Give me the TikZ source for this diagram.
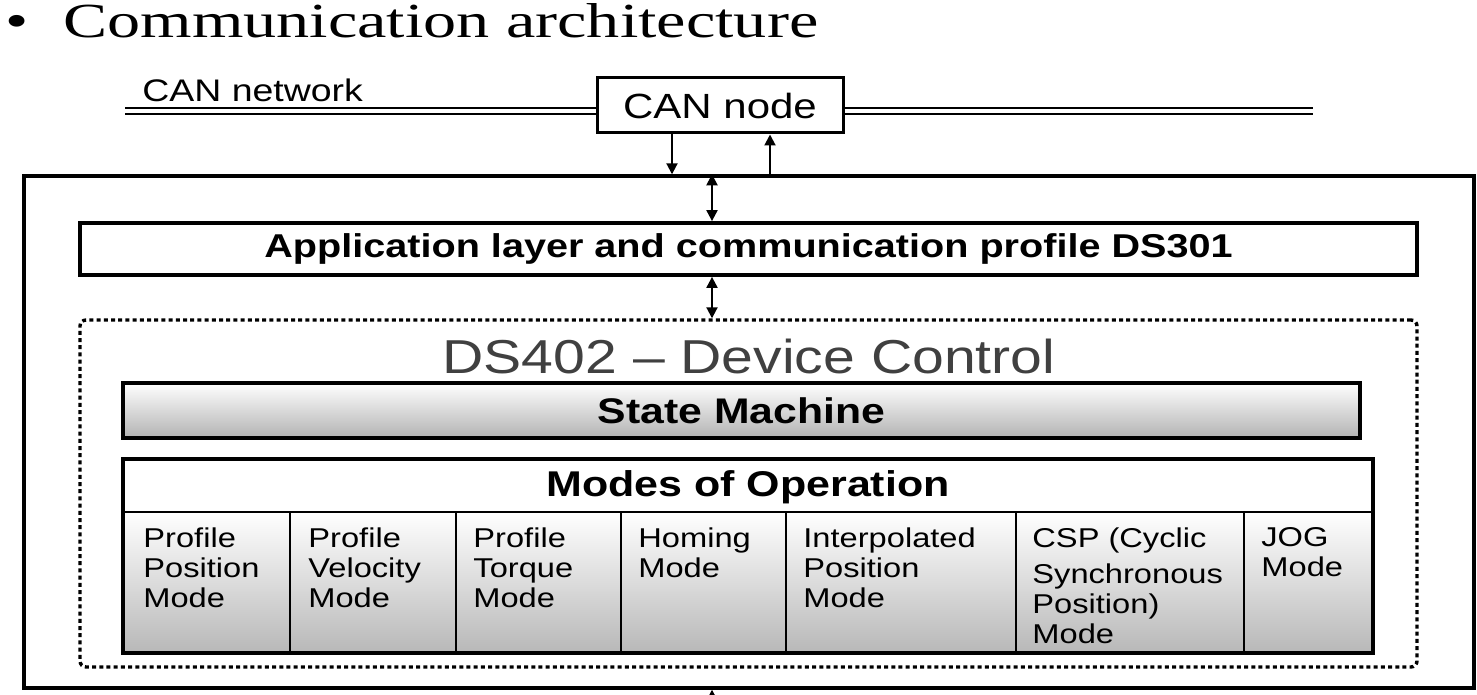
\documentclass[tikz,border=0pt]{standalone}
\usepackage{fontspec}
\setmainfont{Liberation Sans}[FakeStretch=1.2]
\newfontfamily\titlefont{Liberation Serif}[FakeStretch=1.35]
\usepackage{tikz}
\usetikzlibrary{arrows.meta, positioning, calc}

\begin{document}
\begin{tikzpicture}[
        x=0.5pt, y=-0.5pt,
        canbox/.style={
            rectangle,
            draw,
            line width=1.5pt,
            minimum width=123pt,
            minimum height=27.5pt,
            inner sep=0pt,
            font=\fontsize{17.5}{20}\selectfont
        },
        frame/.style={
            rectangle,
            draw,
            line width=1.7pt,
            minimum width=725pt,
            minimum height=256pt,
            inner sep=0pt
        },
        layer/.style={
            rectangle,
            draw,
            line width=1.9pt,
            minimum width=668.5pt,
            minimum height=26pt,
            inner sep=0pt,
            font=\fontsize{16.5}{18}\selectfont\bfseries
        },
        profile/.style={
            rectangle,
            draw,
            rounded corners=3pt,
            line width=1.7pt,
            dash pattern=on 2pt off 1.6pt,
            minimum width=668.5pt,
            minimum height=173.5pt,
            inner sep=0pt
        },
        bar/.style={
            rectangle,
            draw,
            line width=1.9pt,
            minimum width=618.5pt,
            minimum height=27.5pt,
            inner sep=0pt,
            top color=white,
            middle color=white,
            bottom color=black!30,
            font=\fontsize{17.8}{20}\selectfont\bfseries
        },
        modebox/.style={
            rectangle,
            draw,
            line width=1.9pt,
            minimum width=625pt,
            minimum height=97pt,
            inner sep=0pt
        },
        cellrow/.style={
            rectangle,
            draw,
            line width=0.8pt,
            minimum width=625pt,
            minimum height=70.5pt,
            inner sep=0pt,
            top color=white,
            middle color=white,
            bottom color=black!28
        },
        celltext/.style={
            anchor=north west,
            align=left,
            inner sep=0pt,
            font=\fontsize{13.6}{15}\selectfont
        },
        bus/.style={
            double,
            line width=1pt,
            double distance=2pt
        },
        arrow/.style={
            -{Triangle[length=5.5pt, width=5.5pt]},
            line width=1pt
        },
        darrow/.style={
            {Triangle[length=5.5pt, width=5.5pt]}-{Triangle[length=5.5pt, width=5.5pt]},
            line width=1pt
        }
    ]

    \useasboundingbox (0,0) rectangle (1477,695);

    % 标题
    \node[anchor=base west, inner sep=0pt, font=\titlefont\fontsize{24.5}{28}\selectfont] (title) at (5,38)
        {\makebox[29pt][l]{\textbullet}Communication architecture};

    % 节点
    \node[canbox] (canode) at (720,105.5) {CAN node};
    \node[anchor=base west, inner sep=0pt, font=\fontsize{15.6}{18}\selectfont] (netlabel) at (142,102) {CAN network};

    \node[frame] (outer) at (749,432) {};
    \node[layer] (app) at (748.5,249) {Application layer and communication profile DS301};
    \node[profile] (ds402) at (748.5,493.5) {};
    \node[font=\fontsize{23.8}{26}\selectfont, text=black!75, inner sep=0pt] (dstitle) at (749,356) {DS402 -- Device Control};

    \node[bar] (state) at (741.5,410.5) {State Machine};

    \node[cellrow] (cellrow) at (748,582.5) {};
    \node[modebox] (modes) at (748,556) {};
    \node[font=\fontsize{17.9}{20}\selectfont\bfseries, inner sep=0pt] (modeshead) at (748,487) {Modes of Operation};

    \draw[line width=0.8pt] (290,512) -- (290,653);
    \draw[line width=0.8pt] (456,512) -- (456,653);
    \draw[line width=0.8pt] (621,512) -- (621,653);
    \draw[line width=0.8pt] (786,512) -- (786,653);
    \draw[line width=0.8pt] (1016,512) -- (1016,653);
    \draw[line width=0.8pt] (1244,512) -- (1244,653);

    \node[celltext] (ppm) at (143,527) {Profile\\Position\\Mode};
    \node[celltext] (pvm) at (308,527) {Profile\\Velocity\\Mode};
    \node[celltext] (ptm) at (473,527) {Profile\\Torque\\Mode};
    \node[celltext] (hm) at (638,527) {Homing\\Mode};
    \node[celltext] (ipm) at (803,527) {Interpolated\\Position\\Mode};
    \node[celltext] (csp) at (1032,527) {CSP (Cyclic\\[3pt]Synchronous\\Position)\\Mode};
    \node[celltext] (jog) at (1261,527) {JOG\\Mode};

    % 总线
    \coordinate (busL) at (125,111);
    \coordinate (busR) at (1313,111);
    \draw[bus] (busL) -- (busL -| canode.west);
    \draw[bus] (canode.east |- busR) -- (busR);

    % 箭头
    \coordinate (dn) at ($(canode.south)+(-48,0)$);
    \coordinate (up) at ($(canode.south)+(50,0)$);
    \coordinate (mid) at ($(canode.south)+(-8,0)$);
    \coordinate (pin) at ($(mid |- outer.south)+(0,40)$);

    \draw[arrow] (dn) -- (dn |- outer.north);
    \draw[arrow] (up |- outer.north) -- (up);
    \draw[darrow] (mid |- outer.north) -- (mid |- app.north);
    \draw[darrow] (mid |- app.south) -- (mid |- ds402.north);
    \draw[arrow] (pin) -- (mid |- outer.south);

\end{tikzpicture}
\end{document}
